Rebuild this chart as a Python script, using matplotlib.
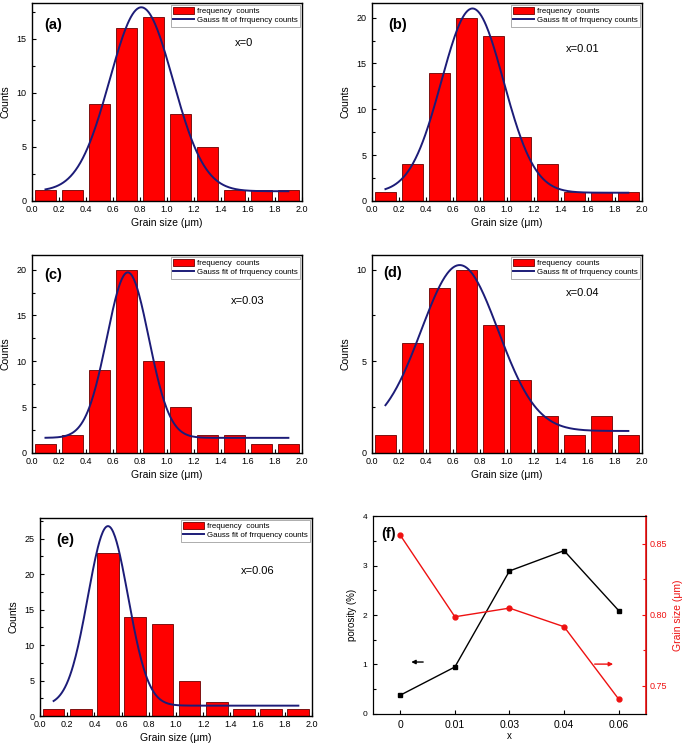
import numpy as np
import matplotlib
matplotlib.use("Agg")
import matplotlib.pyplot as plt
from matplotlib.ticker import MultipleLocator

plt.rcParams['font.family'] = ['Liberation Sans', 'DejaVu Sans']

# histogram data (bin centres, counts)
centers = [0.1, 0.3, 0.5, 0.7, 0.9, 1.1, 1.3, 1.5, 1.7, 1.9]
counts_a = [1, 1, 9, 16, 17, 8, 5, 1, 1, 1]
counts_b = [1, 4, 14, 20, 18, 7, 4, 1, 1, 1]
counts_c = [1, 2, 9, 20, 10, 5, 2, 2, 1, 1]
counts_d = [1, 6, 9, 10, 7, 4, 2, 1, 2, 1]
counts_e = [1, 1, 23, 14, 13, 5, 2, 1, 1, 1]

# gauss fit parameters: y0, A, xc, sigma
fit_a = [0.9, 17.0, 0.81, 0.234]
fit_b = [0.9, 20.1, 0.745, 0.23]
fit_c = [1.65, 18.05, 0.71, 0.155]
fit_d = [1.2, 9.05, 0.65, 0.285]
fit_e = [1.46, 25.3, 0.50, 0.148]

# panel f
x_labels = ['0', '0.01', '0.03', '0.04', '0.06']
porosity = [0.38, 0.95, 2.89, 3.30, 2.09]
grain = [0.856, 0.7986, 0.8047, 0.7916, 0.7407]

panels = [
    ('(a)', 'x=0', counts_a, fit_a, 18.3, [0, 5, 10, 15], (0.045, 0.89), (0.785, 0.80)),
    ('(b)', 'x=0.01', counts_b, fit_b, 21.6, [0, 5, 10, 15, 20], (0.06, 0.89), (0.78, 0.77)),
    ('(c)', 'x=0.03', counts_c, fit_c, 21.6, [0, 5, 10, 15, 20], (0.045, 0.90), (0.80, 0.77)),
    ('(d)', 'x=0.04', counts_d, fit_d, 10.8, [0, 5, 10], (0.04, 0.91), (0.78, 0.81)),
    ('(e)', 'x=0.06', counts_e, fit_e, 27.9, [0, 5, 10, 15, 20, 25], (0.06, 0.89), (0.80, 0.73)),
]
rects = [
    [0.0467, 0.7306, 0.394, 0.2654],
    [0.543, 0.7306, 0.394, 0.2654],
    [0.0467, 0.3928, 0.394, 0.2654],
    [0.543, 0.3928, 0.394, 0.2654],
    [0.0584, 0.0402, 0.397, 0.2654],
]

navy = '#1c1c78'
fig = plt.figure(figsize=(6.85, 7.46), dpi=100)

for (lab, xtxt, cnt, fit, ytop, yt, labpos, xpos), r in zip(panels, rects):
    ax = fig.add_axes(r)
    bars = ax.bar(centers, cnt, width=0.16, color='#ff0000', edgecolor='#6a0000',
                  linewidth=0.6)
    y0, A, xc, s = fit
    xx = np.linspace(0.1, 1.9, 300)
    line, = ax.plot(xx, y0 + A * np.exp(-(xx - xc) ** 2 / (2 * s ** 2)),
                    color=navy, lw=1.4)
    ax.set_xlim(0, 2.0)
    ax.set_ylim(0, ytop)
    ax.set_xticks(np.arange(0, 2.01, 0.2))
    ax.set_xticklabels(['%.1f' % v for v in np.arange(0, 2.01, 0.2)])
    ax.set_yticks(yt)
    ax.yaxis.set_minor_locator(MultipleLocator(2.5))
    ax.tick_params(direction='in', labelsize=6.5, length=3, width=0.8)
    ax.tick_params(axis='x', pad=3)
    ax.tick_params(axis='y', pad=4)
    ax.tick_params(which='minor', direction='in', length=2, width=0.8)
    for sp in ax.spines.values():
        sp.set_linewidth(1.0)
    ax.set_xlabel('Grain size (\u03bcm)', fontsize=7.5, labelpad=3)
    ax.set_ylabel('Counts', fontsize=7.5, labelpad=4)
    ax.text(labpos[0], labpos[1], lab, transform=ax.transAxes, fontsize=10.5,
            fontweight='bold', ha='left', va='center')
    ax.text(xpos[0], xpos[1], xtxt, transform=ax.transAxes, fontsize=8,
            ha='center', va='center')
    leg = ax.legend([bars, line], ['frequency  counts', 'Gauss fit of frrquency counts'],
                    loc='upper right', fontsize=5.7, frameon=True, fancybox=False,
                    borderaxespad=0.25, handlelength=2.6, handleheight=0.9,
                    borderpad=0.3, labelspacing=0.1, handletextpad=0.4)
    leg.get_frame().set_edgecolor('#888888')
    leg.get_frame().set_linewidth(0.6)

# panel (f)
axf = fig.add_axes([0.5445, 0.0429, 0.3985, 0.2654])
pos = np.arange(len(x_labels))
axf.plot(pos, porosity, color='black', lw=1.0, marker='s', ms=3.5)
axf.set_xlim(-0.5, 4.5)
axf.set_ylim(0, 4)
axf.set_xticks(pos)
axf.set_xticklabels(x_labels)
axf.set_yticks([0, 1, 2, 3, 4])
axf.yaxis.set_minor_locator(MultipleLocator(0.5))
axf.tick_params(direction='in', labelsize=6, length=3, width=0.8, pad=4)
axf.tick_params(axis='x', labelsize=7.5, pad=4)
axf.tick_params(which='minor', direction='in', length=2, width=0.8)
axf.set_xlabel('x', fontsize=7, labelpad=1)
axf.set_ylabel('porosity (%)', fontsize=7, labelpad=4)
axf.text(0.03, 0.91, '(f)', transform=axf.transAxes, fontsize=10.5,
         fontweight='bold', ha='left', va='center')
axf.annotate('', xy=(0.15, 1.05), xytext=(0.47, 1.05),
             arrowprops=dict(arrowstyle='-|>', color='black', lw=1.0,
                             mutation_scale=6))

axr = axf.twinx()
axr.plot(pos, grain, color='#ee1111', lw=1.0, marker='o', ms=3.5)
axr.set_ylim(0.7302, 0.8695)
axr.set_yticks([0.75, 0.80, 0.85])
axr.set_yticklabels(['0.75', '0.80', '0.85'])
axr.yaxis.set_minor_locator(MultipleLocator(0.025))
axr.tick_params(direction='in', labelsize=6.5, length=3, width=0.8, pad=3,
                colors='#ee1111')
axr.tick_params(which='minor', direction='in', length=2, width=0.8, colors='#ee1111')
axr.spines['right'].set_color('#ee1111')
axr.spines['right'].set_linewidth(1.2)
axr.set_ylabel('Grain size (\u03bcm)', fontsize=7.5, color='#ee1111', labelpad=4)
axr.annotate('', xy=(3.95, 0.7653), xytext=(3.51, 0.7653),
             arrowprops=dict(arrowstyle='-|>', color='#ee1111', lw=1.0,
                             mutation_scale=6))

fig.savefig('out.png', dpi=100)
